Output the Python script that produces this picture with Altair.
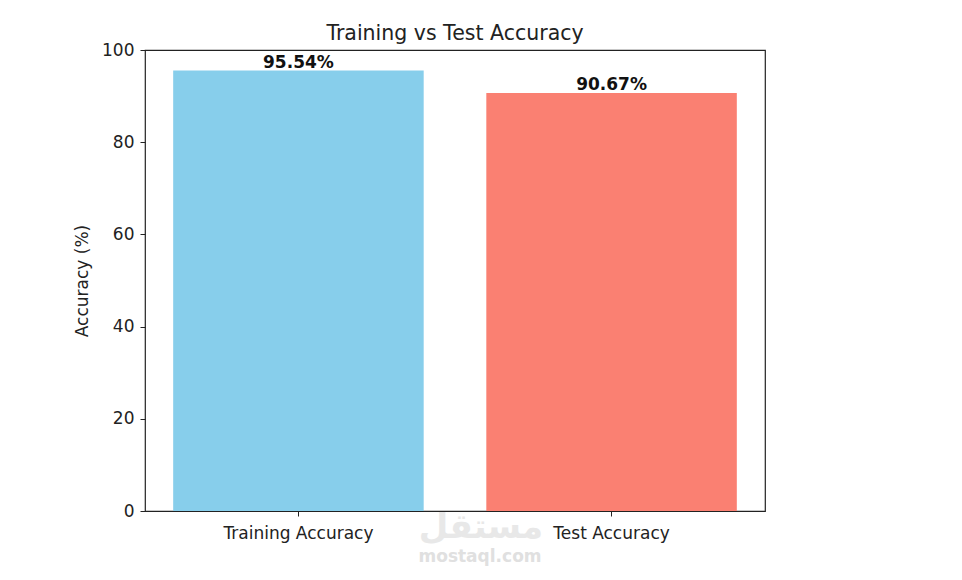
import altair as alt
import pandas as pd

categories = ["Training Accuracy", "Test Accuracy"]
accuracies = [95.54, 90.67]
bar_colors = ["#87CEEB", "#FA8072"]
y_ticks = [0, 20, 40, 60, 80, 100]
watermark_ar = ["مستقل"]
watermark_en = ["mostaql.com"]

df = pd.DataFrame({
    "category": categories,
    "accuracy": accuracies,
    "label": [f"{v:.2f}%" for v in accuracies],
})

FONT = "DejaVu Sans"

x_enc = alt.X(
    "category:N",
    sort=categories,
    scale=alt.Scale(paddingInner=0.2, paddingOuter=0.09),
    axis=alt.Axis(title=None, labelAngle=0, labelFontSize=17, labelPadding=9,
                  labelColor="#222", tickColor="#222", tickSize=5, tickWidth=1,
                  domain=False, labelFont=FONT),
)
y_enc = alt.Y(
    "accuracy:Q",
    scale=alt.Scale(domain=[0, 100], nice=False),
    axis=alt.Axis(title="Accuracy (%)", values=y_ticks, grid=False, labelFontSize=17,
                  labelPadding=6, labelColor="#222", tickColor="#222", tickSize=5,
                  tickWidth=1, domain=False, titleFontSize=17, titleFontWeight="normal",
                  titleColor="#222", titlePadding=10, labelFont=FONT, titleFont=FONT),
)

bars = alt.Chart(df).mark_bar().encode(
    x=x_enc,
    y=y_enc,
    color=alt.Color("category:N", scale=alt.Scale(domain=categories, range=bar_colors), legend=None),
)

labels = alt.Chart(df).mark_text(
    baseline="alphabetic", dy=-3, fontSize=17, fontWeight="bold", font=FONT, color="#111"
).encode(
    x=alt.X("category:N", sort=categories),
    y=alt.Y("accuracy:Q"),
    text="label:N",
)

wm1 = alt.Chart(pd.DataFrame({"t": watermark_ar})).mark_text(
    fontSize=34, fontWeight="bold", font=FONT, color="#e8e8e8", baseline="middle"
).encode(text="t:N", x=alt.value(336), y=alt.value(478))

wm2 = alt.Chart(pd.DataFrame({"t": watermark_en})).mark_text(
    fontSize=17, fontWeight="bold", font=FONT, color="#e0e0e0", baseline="middle"
).encode(text="t:N", x=alt.value(335), y=alt.value(507))

chart = alt.layer(wm1, wm2, bars, labels).properties(
    width=620,
    height=461,
    title=alt.TitleParams("Training vs Test Accuracy", fontSize=20.5, font=FONT,
                          fontWeight="normal", color="#222", offset=-3, anchor="middle"),
    autosize=alt.AutoSizeParams(type="none"),
    padding={"left": 137, "top": 42, "right": 189, "bottom": 61},
).configure(background="white").configure_view(stroke="#222", strokeWidth=1.2)

chart.save("out.html", embed_options={"renderer": "svg", "actions": False})
